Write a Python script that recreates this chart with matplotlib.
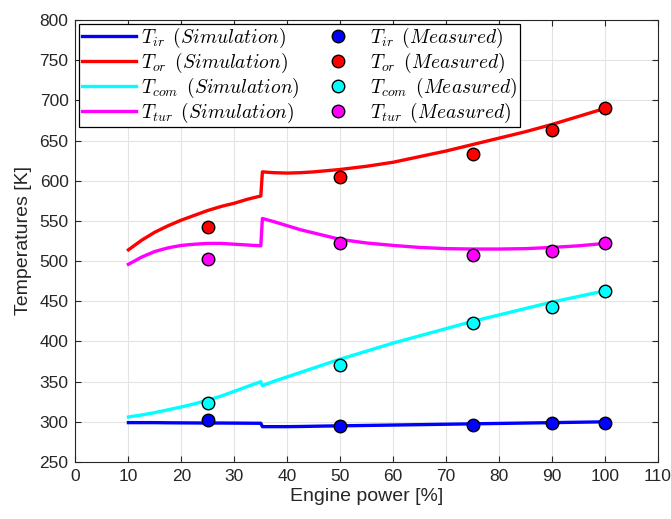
import matplotlib
matplotlib.use("Agg")
import matplotlib.pyplot as plt

# Simulated temperatures vs. engine power
power_sim = [10, 12.5, 15, 17.5, 20, 22.5, 25, 27.5, 30, 32.5, 35, 35.3, 37.5, 40, 42.5,
             45, 47.5, 50, 55, 60, 65, 70, 75, 80, 85, 90, 95, 100]
t_ir_sim = [299, 299, 299, 298.8, 298.7, 298.6, 298.5, 298.5, 298.4, 298.3, 298.2, 294, 294,
            294, 294.2, 294.5, 294.8, 295, 295.5, 296, 296.5, 297, 297.5, 298, 298.5, 299, 299.5, 300]
t_or_sim = [514, 526, 536, 544, 551, 557, 563, 568, 572, 577, 581, 611, 610, 609.5, 610,
            611, 612.5, 614, 618, 623, 630, 637, 645, 653, 661, 670, 680, 690]
t_com_sim = [306, 308.5, 311.5, 315, 318.5, 322.5, 327, 332, 338, 344, 350, 345, 350.5, 356, 361.5,
             367, 372.5, 378, 388, 398, 407, 416, 425, 433, 441, 449, 456, 463]
t_tur_sim = [496, 505, 512, 516.5, 519.5, 521, 522, 522, 521, 520, 519, 553, 549, 544, 539,
             535, 531, 527, 522.5, 519.5, 517, 515.5, 515, 515, 515.5, 517, 519, 522]

# Measured temperatures
power_meas = [25, 50, 75, 90, 100]
t_ir_meas = [302, 295, 296, 298, 299]
t_or_meas = [543, 605, 633, 663, 691]
t_com_meas = [324, 371, 423, 443, 463]
t_tur_meas = [503, 523, 508, 513, 523]

x_ticks = list(range(0, 111, 10))
y_ticks = list(range(250, 801, 50))

plt.rcParams['font.family'] = ['Liberation Sans', 'DejaVu Sans']
plt.rcParams['mathtext.fontset'] = 'cm'

fig = plt.figure(figsize=(6.71, 5.19), dpi=100)
ax = fig.add_axes([0.1125, 0.1098, 0.868, 0.8517])

series = [
    ("ir", t_ir_sim, t_ir_meas, "#0000ff"),
    ("or", t_or_sim, t_or_meas, "#ff0000"),
    ("com", t_com_sim, t_com_meas, "#00ffff"),
    ("tur", t_tur_sim, t_tur_meas, "#ff00ff"),
]

sim_handles = []
meas_handles = []
for sub, sim, meas, col in series:
    h, = ax.plot(power_sim, sim, color=col, lw=2.4, solid_joinstyle="round",
                 label=r"$T_{%s}\ \,(Simulation)$" % sub, zorder=3)
    sim_handles.append(h)
for sub, sim, meas, col in series:
    h, = ax.plot(power_meas, meas, ls="none", marker="o", ms=9,
                 mfc=col, mec="black", mew=1.0,
                 label=r"$T_{%s}\ \,(Measured)$" % sub, zorder=4)
    meas_handles.append(h)

ax.set_xlim(0, 110)
ax.set_ylim(250, 800)
ax.set_xticks(x_ticks)
ax.set_yticks(y_ticks)
ax.grid(True, color="#e3e3e3", lw=0.8)
ax.set_axisbelow(True)
ax.tick_params(direction="in", top=True, right=True, labelsize=12.5,
               colors="#262626", length=4, pad=5)
for s in ax.spines.values():
    s.set_color("#262626")
    s.set_linewidth(0.8)

ax.set_xlabel("Engine power [%]", fontsize=14, color="#262626", labelpad=3)
ax.set_ylabel("Temperatures [K]", fontsize=14, color="#262626", labelpad=5)

leg = ax.legend(sim_handles + meas_handles,
                [h.get_label() for h in sim_handles + meas_handles],
                ncol=2, loc="upper left", fontsize=14, frameon=True,
                fancybox=False, edgecolor="black", framealpha=1,
                handlelength=2.78, handletextpad=0.27, columnspacing=0.6,
                labelspacing=0.04, borderpad=0.12, borderaxespad=0.2)
leg.get_frame().set_linewidth(0.9)

fig.savefig("out.png", dpi=100)
